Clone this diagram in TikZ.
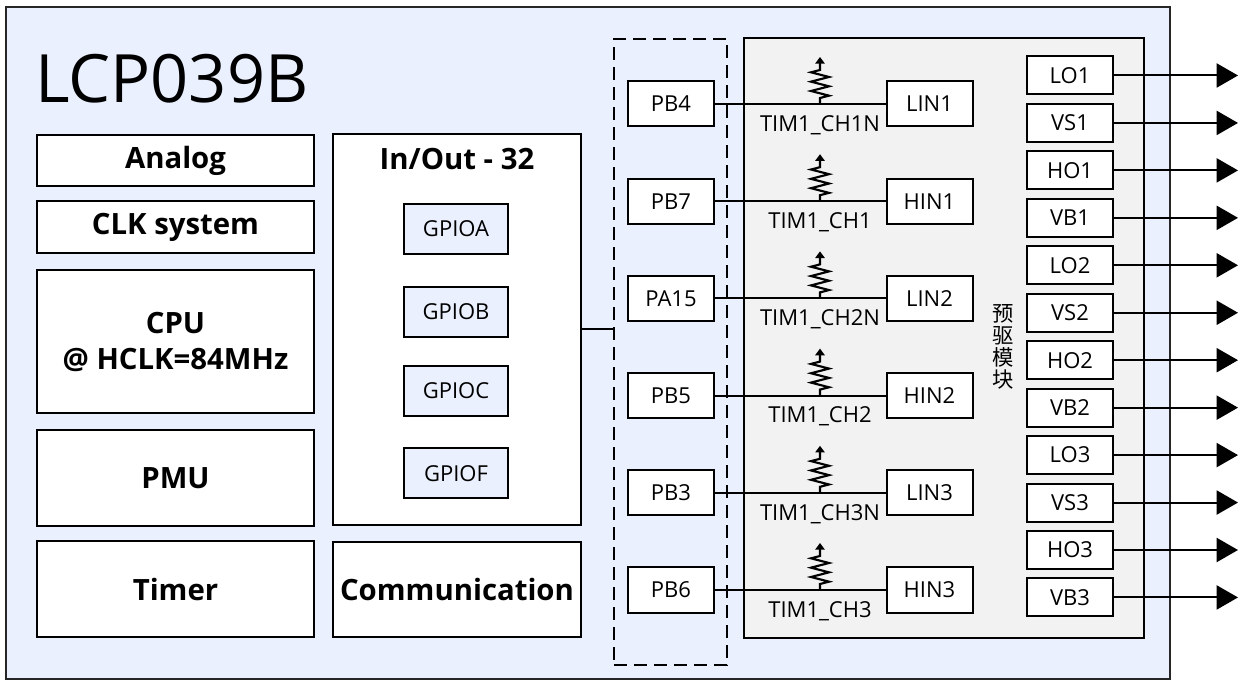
\documentclass[tikz,border=0pt]{standalone}
\usepackage{fontspec}
\setmainfont{Open Sans}
\newfontfamily\cjk{Noto Sans CJK SC}
\usetikzlibrary{arrows.meta,calc}
\definecolor{bgblue}{RGB}{234,240,253}
\definecolor{modgrey}{RGB}{242,242,242}
\begin{document}
\begin{tikzpicture}[x=0.75pt,y=-0.75pt,
  bigbox/.style={draw, line width=1.5pt, fill=white, inner sep=0pt, align=center,
    font=\bfseries\fontsize{22}{27}\selectfont},
  gpio/.style={draw, line width=1.5pt, fill=bgblue, inner sep=0pt,
    minimum width=78pt, minimum height=37.5pt, font=\fontsize{16.5}{19}\selectfont},
  pinbox/.style={draw, line width=1.5pt, fill=white, inner sep=0pt,
    minimum width=64.5pt, minimum height=33.75pt, font=\fontsize{16.5}{19}\selectfont},
  outbox/.style={draw, line width=1.5pt, fill=white, inner sep=0pt,
    minimum width=64.5pt, minimum height=28.5pt, font=\fontsize{16.5}{19}\selectfont},
  wire/.style={line width=1.5pt},
  outarrow/.style={line width=1.5pt, -{Triangle[length=16pt,width=18pt]}},
  pullup/.style={line width=1.6pt, line join=miter, -{Triangle[length=5pt,width=7pt]}},
  timlabel/.style={inner sep=0pt, font=\fontsize{16.5}{19}\selectfont}
]
\useasboundingbox (0,0) rectangle (1239,680);

% outer chip box
\node[draw=black!85, line width=1.1pt, fill=bgblue, minimum width=873pt, minimum height=504pt, inner sep=0pt] (chip) at (588,343) {};
\node[anchor=base west, inner sep=0pt, font=\fontsize{50}{60}\selectfont] (title) at (35,103) {LCP039B};

% left column
\node[bigbox, minimum width=207.75pt, minimum height=38.25pt] (analog) at (175.5,160.5) {Analog};
\node[bigbox, minimum width=207.75pt, minimum height=39pt] (clk) at (175.5,227) {CLK system};
\node[bigbox, minimum width=207.75pt, minimum height=107.25pt] (cpu) at (175.5,341.5) {CPU\\@ HCLK=84MHz};
\node[bigbox, minimum width=207.75pt, minimum height=72pt] (pmu) at (175.5,478) {PMU};
\node[bigbox, minimum width=207.75pt, minimum height=72pt] (timer) at (175.5,589) {Timer};

% middle column
\node[bigbox, minimum width=186pt, minimum height=293.25pt] (io) at (457,329.5) {};
\node[inner sep=0pt, font=\bfseries\fontsize{22}{27}\selectfont] (iotitle) at (457,159) {In/Out - 32};
\node[bigbox, minimum width=186pt, minimum height=71.25pt] (comm) at (457,589.5) {Communication};
\node[gpio] (gpioa) at (456,229) {GPIOA};
\node[gpio] (gpiob) at (456,312) {GPIOB};
\node[gpio] (gpioc) at (456,391) {GPIOC};
\node[gpio] (gpiof) at (456,473.5) {GPIOF};

% dashed pin group and pre-driver module
\node[draw, line width=1.5pt, dash pattern=on 10pt off 5pt, minimum width=84.75pt, minimum height=469.5pt, inner sep=0pt] (pins) at (670.5,352) {};
\node[draw, line width=1.5pt, fill=modgrey, minimum width=300pt, minimum height=450pt, inner sep=0pt] (mod) at (944,338) {};
\draw[wire] (io.east) -- (io.east -| pins.west);

\node[inner sep=0pt, align=center, font=\cjk\fontsize{16}{16.5}\selectfont] (cn) at (1003,347) {预\\驱\\模\\块};

% channels
\foreach \i/\pb/\lin/\tim in {0/PB4/LIN1/{TIM1\_CH1N},1/PB7/HIN1/{TIM1\_CH1},2/PA15/LIN2/{TIM1\_CH2N},3/PB5/HIN2/{TIM1\_CH2},4/PB3/LIN3/{TIM1\_CH3N},5/PB6/HIN3/{TIM1\_CH3}} {
  \pgfmathsetmacro\yy{104+97.2*\i}
  \node[pinbox] (pb\i) at (671,\yy) {\pb};
  \node[pinbox] (in\i) at (929.5,\yy) {\lin};
  \draw[wire] (pb\i.east) -- (in\i.west);
  \coordinate (r\i) at (820,\yy);
  \draw[pullup] (r\i) -- ++(0,-6) -- ++(9,-2.33) -- ++(-18,-4.67) -- ++(18,-4.67) -- ++(-18,-4.67) -- ++(18,-4.67) -- ++(-18,-4.67) -- ++(9,-2.33) -- ++(0,-13);
  \node[timlabel] (tim\i) at ($(r\i)+(0,21)$) {\tim};
}

% outputs
\foreach \n [count=\k from 0] in {LO1,VS1,HO1,VB1,LO2,VS2,HO2,VB2,LO3,VS3,HO3,VB3} {
  \pgfmathsetmacro\yy{75.5+47.45*\k}
  \node[outbox] (out\k) at (1070,\yy) {\n};
  \coordinate (end\k) at (1238,\yy);
  \draw[outarrow] (out\k.east) -- (end\k);
}
\end{tikzpicture}
\end{document}
